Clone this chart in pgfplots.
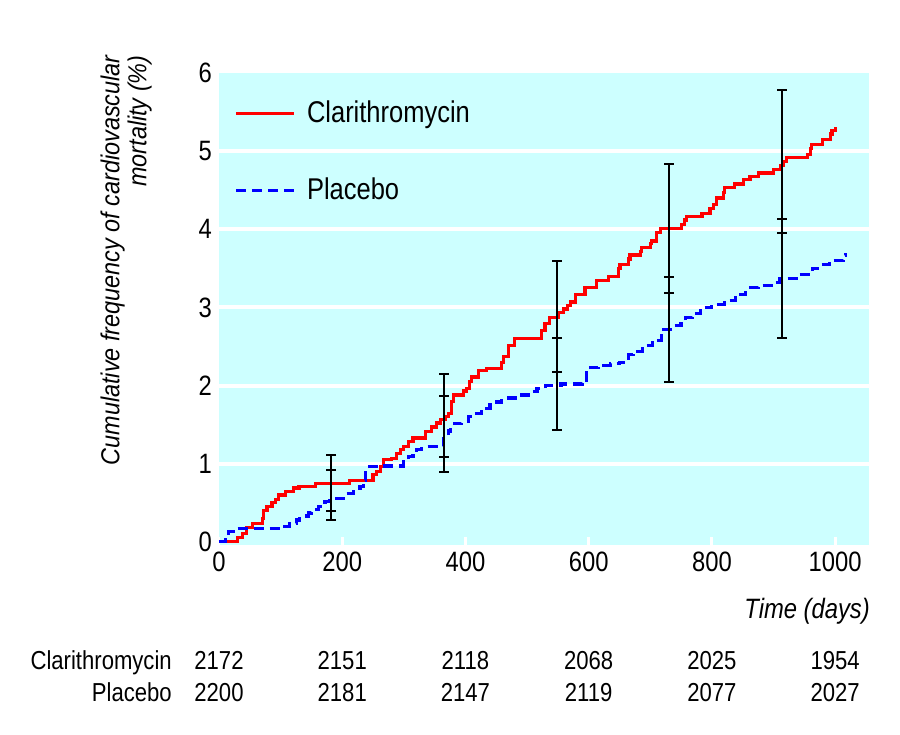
\documentclass[border=0pt]{standalone}
\usepackage{fontspec}
\setmainfont{Liberation Sans}[FakeStretch=0.85]
\newfontfamily\ylabfont{Liberation Sans}[FakeStretch=0.9]
\usepackage{pgfplots}
\pgfplotsset{compat=1.18}
\definecolor{bgcyan}{RGB}{205,255,255}
\definecolor{kmred}{RGB}{255,0,0}
\definecolor{kmblue}{RGB}{0,0,255}
\begin{document}
\begin{tikzpicture}
\path[use as bounding box] (-109.5pt,-94.5pt) rectangle (340.5pt,272.5pt);
\begin{axis}[
  at={(0pt,0pt)}, anchor=south west,
  scale only axis, width=325pt, height=236pt,
  xmin=0, xmax=1055, ymin=-0.04, ymax=6,
  clip mode=individual,
  axis line style={draw=none},
  axis background/.style={fill=bgcyan},
  xtick={0,200,400,600,800,1000},
  xticklabels={0,200,400,600,800,1000},
  ytick={0,1,2,3,4,5,6},
  yticklabels={0,1,2,3,4,5,6},
  xtick pos=bottom, ytick pos=left,
  tick align=inside,
  major tick length=4pt,
  xtick style={white, line width=1.5pt},
  ytick style={draw=none},
  extra y ticks={1,2,3,4,5},
  extra y tick labels={},
  extra y tick style={grid=major, major tick length=0pt},
  major grid style={white, line width=2pt},
  tick label style={font=\fontsize{14}{16}\selectfont},
  legend cell align=left,
  legend image code/.code={\draw[#1] (0pt,0pt) -- (29pt,0pt); \path (32.5pt,0pt);},
  legend style={draw=none, fill=none, at={(axis cs:25,4.99)}, anchor=west,
    row sep=22pt, font=\fontsize{15}{18}\selectfont, inner sep=0pt},
]
% Clarithromycin (Kaplan-Meier, step)
\addplot[kmred, line width=1.6pt, const plot, mark=none] coordinates {
(0,0) (30,0.06) (38,0.11) (44,0.18) (55,0.24) (70,0.30) (72,0.40) (78,0.45)
(86,0.50) (92,0.54) (97,0.60) (108,0.64) (121,0.69) (130,0.71) (156,0.75)
(212,0.79) (250,0.86) (256,0.90) (262,0.96) (267,1.05) (280,1.07) (288,1.13)
(294,1.18) (299,1.22) (307,1.28) (315,1.33) (335,1.41) (345,1.47) (353,1.52)
(360,1.57) (367,1.60) (372,1.64) (378,1.80) (381,1.88) (397,1.93) (402,1.96)
(407,2.05) (410,2.11) (421,2.19) (434,2.22) (459,2.30) (462,2.37) (470,2.51)
(480,2.60) (524,2.70) (529,2.79) (537,2.87) (551,2.94) (559,2.98) (565,3.02)
(570,3.07) (578,3.17) (594,3.26) (613,3.34) (632,3.40) (649,3.50) (651,3.55)
(665,3.62) (667,3.67) (684,3.72) (686,3.77) (700,3.82) (702,3.85) (710,3.96)
(716,4.01) (751,4.06) (756,4.12) (759,4.16) (784,4.20) (797,4.27) (802,4.32)
(808,4.40) (819,4.47) (821,4.53) (837,4.58) (851,4.64) (862,4.68) (875,4.72)
(900,4.77) (911,4.82) (916,4.87) (921,4.92) (955,4.96) (960,5.03) (962,5.09)
(980,5.15) (993,5.22) (995,5.26) (1000,5.31)
};
\addlegendentry{Clarithromycin}
% Placebo
\addplot[kmblue, line width=1.6pt, const plot, mark=none, dash pattern=on 5pt off 3pt] coordinates {
(0,0) (10,0.08) (15,0.13) (30,0.17) (104,0.20) (115,0.24) (126,0.28) (131,0.33)
(145,0.37) (150,0.41) (161,0.45) (172,0.52) (180,0.56) (207,0.62) (218,0.68)
(229,0.71) (234,0.79) (238,0.92) (244,0.96) (262,0.97) (300,1.03) (307,1.09)
(315,1.13) (321,1.18) (329,1.22) (365,1.35) (372,1.42) (376,1.47) (382,1.51)
(394,1.54) (405,1.60) (415,1.64) (426,1.71) (440,1.79) (459,1.84) (481,1.88)
(502,1.92) (516,1.96) (530,2.00) (555,2.02) (590,2.07) (596,2.19) (603,2.23)
(615,2.26) (635,2.28) (650,2.30) (665,2.40) (672,2.44) (687,2.51) (703,2.58)
(718,2.66) (722,2.72) (736,2.77) (750,2.83) (757,2.87) (768,2.92) (781,3.00)
(800,3.04) (820,3.09) (838,3.17) (855,3.25) (875,3.28) (900,3.32) (910,3.37)
(940,3.42) (963,3.50) (975,3.55) (991,3.60) (1013,3.66) (1017,3.70)
};
\addlegendentry{Placebo}
% confidence intervals
\addplot[black, line width=1pt, mark=-, mark size=2.5pt, forget plot] coordinates {(182,0.40) (182,1.11)};
\addplot[black, line width=1pt, mark=-, mark size=2.5pt, forget plot] coordinates {(182,0.28) (182,0.92)};
\addplot[black, line width=1pt, mark=-, mark size=2.5pt, forget plot] coordinates {(365,1.09) (365,2.15)};
\addplot[black, line width=1pt, mark=-, mark size=2.5pt, forget plot] coordinates {(365,0.90) (365,1.87)};
\addplot[black, line width=1pt, mark=-, mark size=2.5pt, forget plot] coordinates {(548,2.18) (548,3.59)};
\addplot[black, line width=1pt, mark=-, mark size=2.5pt, forget plot] coordinates {(548,1.43) (548,2.61)};
\addplot[black, line width=1pt, mark=-, mark size=2.5pt, forget plot] coordinates {(730,3.18) (730,4.83)};
\addplot[black, line width=1pt, mark=-, mark size=2.5pt, forget plot] coordinates {(730,2.04) (730,3.39)};
\addplot[black, line width=1pt, mark=-, mark size=2.5pt, forget plot] coordinates {(913,3.95) (913,5.78)};
\addplot[black, line width=1pt, mark=-, mark size=2.5pt, forget plot] coordinates {(913,2.61) (913,4.13)};
% y label
\node[rotate=90, anchor=north east, align=right, inner sep=0pt,
  font=\fontsize{13}{13.5}\ylabfont\itshape] at (axis description cs:-0.183,1.038)
  {Cumulative frequency of cardiovascular\\mortality (\%)};
% x label
\node[anchor=base east, inner sep=0pt, font=\fontsize{14}{16}\selectfont\itshape]
  at (axis cs:1057,-0.975) {Time (days)};
% numbers at risk
\node[anchor=base east, inner sep=0pt, font=\fontsize{13}{15}\selectfont] at (axis cs:-76,-1.627) {Clarithromycin};
\node[anchor=base east, inner sep=0pt, font=\fontsize{13}{15}\selectfont] at (axis cs:-76,-2.04) {Placebo};
\node[anchor=base, inner sep=0pt, font=\fontsize{13}{15}\selectfont] at (axis cs:0,-1.627) {2172};
\node[anchor=base, inner sep=0pt, font=\fontsize{13}{15}\selectfont] at (axis cs:200,-1.627) {2151};
\node[anchor=base, inner sep=0pt, font=\fontsize{13}{15}\selectfont] at (axis cs:400,-1.627) {2118};
\node[anchor=base, inner sep=0pt, font=\fontsize{13}{15}\selectfont] at (axis cs:600,-1.627) {2068};
\node[anchor=base, inner sep=0pt, font=\fontsize{13}{15}\selectfont] at (axis cs:800,-1.627) {2025};
\node[anchor=base, inner sep=0pt, font=\fontsize{13}{15}\selectfont] at (axis cs:1000,-1.627) {1954};
\node[anchor=base, inner sep=0pt, font=\fontsize{13}{15}\selectfont] at (axis cs:0,-2.04) {2200};
\node[anchor=base, inner sep=0pt, font=\fontsize{13}{15}\selectfont] at (axis cs:200,-2.04) {2181};
\node[anchor=base, inner sep=0pt, font=\fontsize{13}{15}\selectfont] at (axis cs:400,-2.04) {2147};
\node[anchor=base, inner sep=0pt, font=\fontsize{13}{15}\selectfont] at (axis cs:600,-2.04) {2119};
\node[anchor=base, inner sep=0pt, font=\fontsize{13}{15}\selectfont] at (axis cs:800,-2.04) {2077};
\node[anchor=base, inner sep=0pt, font=\fontsize{13}{15}\selectfont] at (axis cs:1000,-2.04) {2027};
\end{axis}
\end{tikzpicture}
\end{document}
